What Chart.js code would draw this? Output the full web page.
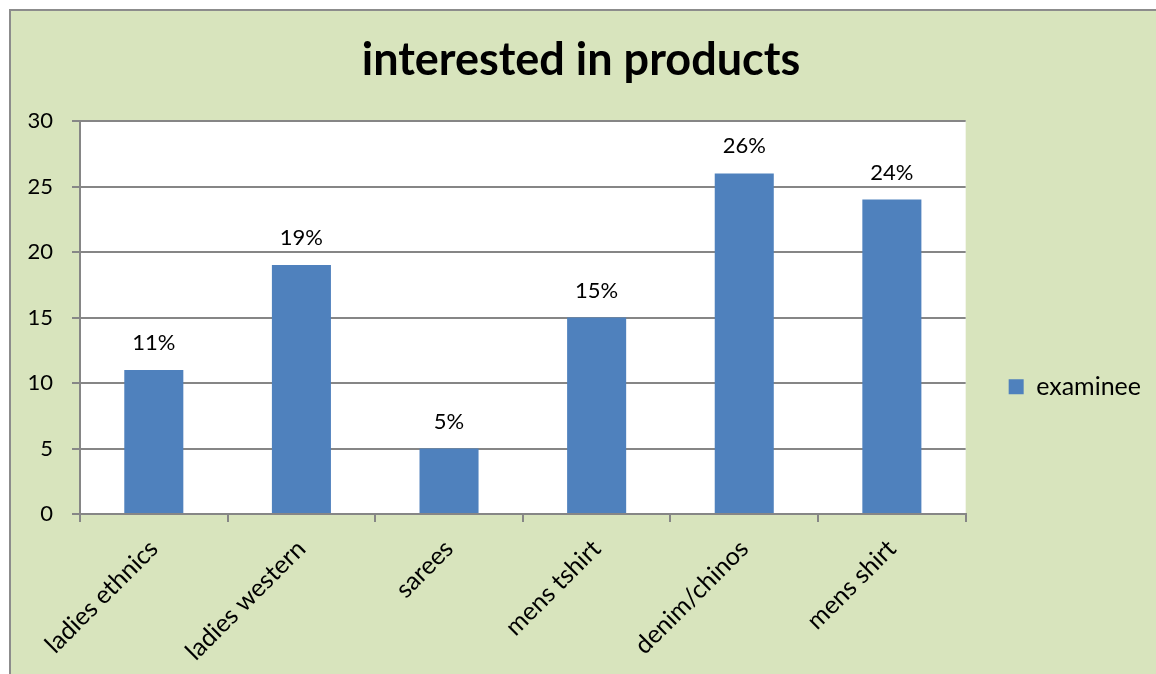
<!DOCTYPE html>
<html lang="en">
<head>
    <meta charset="UTF-8">
    <title>interested in products</title>
    <script src="https://cdn.jsdelivr.net/npm/chart.js"></script>
    <style>
        body { margin: 0; background: #fff; }
        #wrap {
            position: absolute; left: 9px; top: 9px;
            width: 1147px; height: 665px;
            border-top: 2px solid #8c8c8c; border-left: 2px solid #8c8c8c;
            background: #d8e4bd;
        }
    </style>
</head>
<body>
<div id="wrap"><canvas id="chart" width="1147" height="665"></canvas></div>
<script>
    // values
    var categories = ['ladies ethnics', 'ladies western', 'sarees', 'mens tshirt', 'denim/chinos', 'mens shirt'];
    var examinee = [11, 19, 5, 15, 26, 24];
    var yTicks = [0, 5, 10, 15, 20, 25, 30];

    var fontFam = 'Lato, "Open Sans", sans-serif';

    // white plot area
    var plotBg = {
        id: 'plotBg',
        beforeDraw: function(chart) {
            var a = chart.chartArea, c = chart.ctx;
            c.save();
            c.fillStyle = '#ffffff';
            c.fillRect(a.left, a.top, a.right - a.left, a.bottom - a.top);
            c.restore();
        }
    };

    // "nn%" above each bar
    var pctLabels = {
        id: 'pctLabels',
        afterDatasetsDraw: function(chart) {
            var c = chart.ctx;
            var meta = chart.getDatasetMeta(0);
            c.save();
            c.font = '22px ' + fontFam;
            c.fillStyle = '#000';
            c.textAlign = 'center';
            c.textBaseline = 'alphabetic';
            meta.data.forEach(function(bar, i) {
                c.fillText(examinee[i] + '%', bar.x, bar.y - 20);
            });
            c.restore();
        }
    };

    var ctx = document.getElementById('chart').getContext('2d');
    var chart = new Chart(ctx, {
        type: 'bar',
        data: {
            labels: categories,
            datasets: [{
                label: 'examinee',
                data: examinee,
                backgroundColor: '#4f81bd',
                borderWidth: 0,
                barPercentage: 0.4,
                categoryPercentage: 1
            }]
        },
        options: {
            responsive: false,
            animation: false,
            layout: { padding: { top: 0, right: 7, bottom: 0, left: 0 } },
            plugins: {
                title: {
                    display: true,
                    text: 'interested in products',
                    color: '#000',
                    font: { family: fontFam, size: 45, weight: 'bold' },
                    padding: { top: 22, bottom: 34 }
                },
                legend: {
                    position: 'right',
                    title: {
                        display: true,
                        text: ' ',
                        font: { size: 12 },
                        padding: { top: 0, bottom: 72 }
                    },
                    labels: {
                        color: '#000',
                        font: { family: fontFam, size: 25 },
                        boxWidth: 15,
                        boxHeight: 15,
                        padding: 8
                    }
                },
                tooltip: { enabled: false }
            },
            scales: {
                x: {
                    grid: { drawOnChartArea: false, drawTicks: true, tickLength: 8, color: '#868686', lineWidth: 2 },
                    border: { color: '#868686', width: 2 },
                    ticks: {
                        color: '#000',
                        font: { family: fontFam, size: 25 },
                        maxRotation: 45, minRotation: 45,
                        padding: 12
                    },
                    afterFit: function(s) { s.height = 162; }
                },
                y: {
                    min: 0, max: 30,
                    afterBuildTicks: function(s) {
                        s.ticks = yTicks.map(function(v) { return { value: v }; });
                    },
                    grid: { color: '#868686', lineWidth: 2, tickLength: 8 },
                    border: { color: '#868686', width: 2 },
                    ticks: {
                        color: '#000',
                        font: { family: fontFam, size: 22 },
                        padding: 19
                    },
                    afterFit: function(s) { s.width = 69; }
                },
                // empty spacer between plot and legend
                gap: {
                    type: 'linear',
                    position: 'right',
                    display: true,
                    grid: { display: false },
                    border: { display: false },
                    ticks: { display: false },
                    afterFit: function(s) { s.width = 35; }
                }
            }
        },
        plugins: [plotBg, pctLabels]
    });
</script>
</body>
</html>
